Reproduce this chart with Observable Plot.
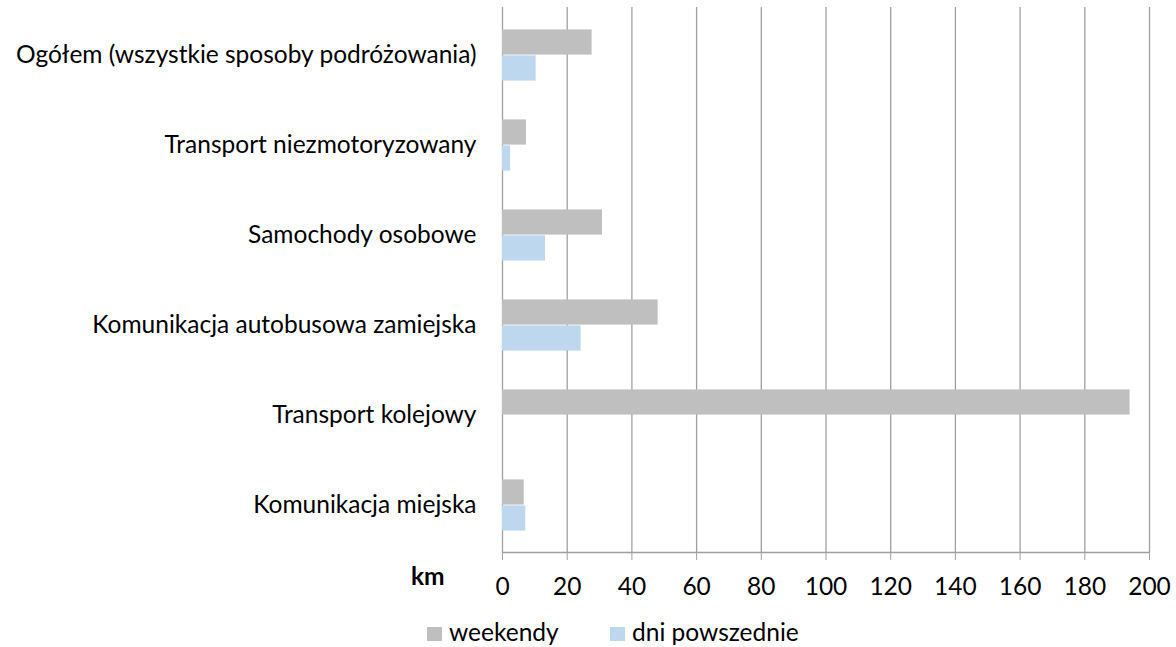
<!DOCTYPE html>
<html>
<head>
<meta charset="utf-8">
<script src="https://cdn.jsdelivr.net/npm/d3@7"></script>
<script src="https://cdn.jsdelivr.net/npm/@observablehq/plot@0.6"></script>
<style>
  body { margin: 0; background: #fff; font-family: Lato, sans-serif; }
  #legend { position: relative; height: 37px; font-size: 24.5px; color: #000; }
  .sw { position: absolute; width: 15px; height: 14px; top: 17px; }
  .lt { position: absolute; top: 7px; line-height: 29.4px; white-space: nowrap; }
</style>
</head>
<body>
<div id="chart"></div>
<div id="legend"></div>
<script>
const categories = [
  "Ogółem (wszystkie sposoby podróżowania)",
  "Transport niezmotoryzowany",
  "Samochody osobowe",
  "Komunikacja autobusowa zamiejska",
  "Transport kolejowy",
  "Komunikacja miejska"
];
const series = ["weekendy", "dni powszednie"];
const weekendy = [27.7, 7.4, 30.9, 48.1, 194.0, 6.7];
const dniPowszednie = [10.4, 2.5, 13.3, 24.3, 0, 7.2];
const xTicks = [0, 20, 40, 60, 80, 100, 120, 140, 160, 180, 200];
const colors = ["#BFBFBF", "#BDD7EE"];

const wData = categories.map((c, i) => ({category: c, value: weekendy[i]}));
const dData = categories.map((c, i) => ({category: c, value: dniPowszednie[i]}));

const svgH = 610, plotTop = 7, plotBottom = 552;
const band = (plotBottom - plotTop) / categories.length;
const barH = 26;
const outer = band / 2 - barH;

const chart = Plot.plot({
  width: 1176,
  height: svgH,
  marginLeft: 502,
  marginRight: 27,
  marginTop: plotTop,
  marginBottom: svgH - plotBottom,
  style: {fontFamily: "Lato, sans-serif", fontSize: "24.5px", color: "#000", background: "#fff"},
  x: {domain: [0, 200], ticks: xTicks},
  y: {domain: categories, padding: 0},
  marks: [
    Plot.ruleX(xTicks, {stroke: "#A0A0A0", strokeWidth: 1.3}),
    Plot.barX(wData, {x: "value", y: "category", fill: colors[0], insetTop: outer, insetBottom: band - outer - barH}),
    Plot.barX(dData, {x: "value", y: "category", fill: colors[1], insetTop: band / 2, insetBottom: outer}),
    Plot.frame({anchor: "bottom", stroke: "#A0A0A0", strokeWidth: 1.3}),
    Plot.axisX({ticks: xTicks, tickSize: 8, tickPadding: 17, stroke: "#A0A0A0", label: null, fill: "#000"}),
    Plot.axisY({tickSize: 0, tickPadding: 26, label: null, fill: "#000"}),
    Plot.text(["km"], {frameAnchor: "bottom-left", dx: -91.6, dy: 32, text: d => d, fontWeight: "bold", fontSize: 24.5, fill: "#000"})
  ]
});
document.getElementById("chart").appendChild(chart);

const legend = document.getElementById("legend");
const pos = [[427, 449], [610, 632]];
series.forEach((s, i) => {
  const sw = document.createElement("div");
  sw.className = "sw"; sw.style.left = pos[i][0] + "px"; sw.style.background = colors[i];
  const t = document.createElement("div");
  t.className = "lt"; t.style.left = pos[i][1] + "px"; t.textContent = s;
  legend.appendChild(sw); legend.appendChild(t);
});
</script>
</body>
</html>
